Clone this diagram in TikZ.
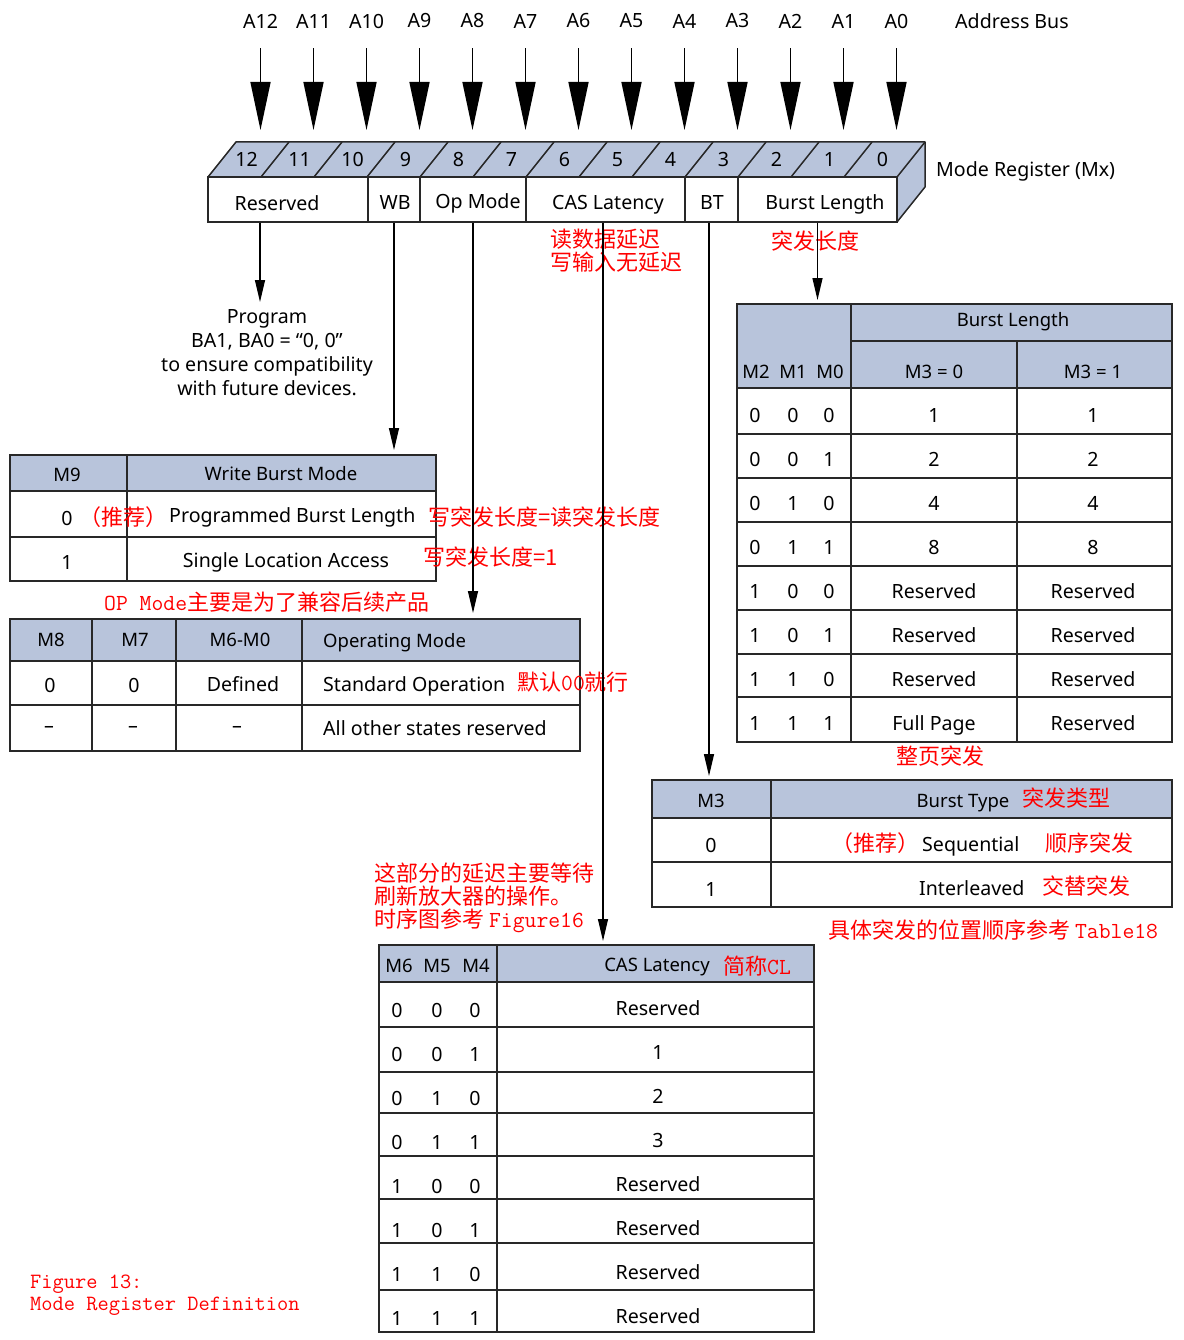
\documentclass[tikz,border=0pt]{standalone}
\usepackage{fontspec}
\setmainfont{Noto Sans}
\newfontfamily\cjk{Noto Sans CJK SC}
\usetikzlibrary{arrows.meta}
\definecolor{hdr}{RGB}{184,196,219}
\definecolor{lc}{RGB}{40,40,40}
\definecolor{rd}{RGB}{255,0,0}
\newcommand\latn[1]{{\ttfamily\fontsize{23}{23}\selectfont #1}}
\begin{document}
\begin{tikzpicture}[x=1pt,y=-1pt,
 tl/.style={font=\fontsize{19.6}{24}\selectfont, inner sep=0pt},
 th/.style={font=\fontsize{18.5}{22}\selectfont, inner sep=0pt},
 rnote/.style={text=rd, font=\cjk\fontsize{22}{23}\selectfont, inner sep=0pt},
 frame/.style={draw=lc, line width=1.5pt, inner sep=0pt, anchor=north west},
 gl/.style={draw=lc, line width=1.5pt},
 regbox/.style={draw=lc, fill=white, line width=1.5pt, inner sep=0pt, minimum height=45pt},
 sarr/.style={draw=black, line width=1.3pt, -{Triangle[length=22pt,width=10pt]}},
 barr/.style={draw=black, line width=1.5pt, -{Triangle[length=48pt,width=20pt]}},
]
\useasboundingbox (0,0) rectangle (1183,1340);

% ---------- address bus ----------
\node[tl, anchor=west] (abus) at (955,21) {Address Bus};
\foreach \k in {0,...,12}{
  \pgfmathsetmacro\xx{260.5+53*(12-\k)}
  \node[tl] (a\k) at (\xx,21) {A\k};
  \coordinate (t\k) at (\xx,142);
  \draw[barr, shorten <=20pt, shorten >=12pt] (a\k.south) -- (t\k);
}

% ---------- register ----------
\fill[hdr] (208,177) -- (236,142) -- (925,142) -- (897,177) -- cycle;
\fill[hdr] (897,177) -- (925,142) -- (925,187) -- (897,222) -- cycle;
\draw[gl, line join=round] (208,177) -- (236,142) -- (925,142) -- (925,187) -- (897,222);
\draw[gl] (897,177) -- (925,142);
\foreach \i in {1,...,12}{
  \draw[gl] ({208+53*\i},177) -- ({236+53*\i},142);
}
\foreach \k in {0,...,12}{
  \pgfmathsetmacro\xx{246.5+53*(12-\k)}
  \node[tl, anchor=base] at (\xx,167) {\k};
}
\node[regbox, minimum width=160pt] (res) at (288,199.5) {};
\node[regbox, minimum width=52pt] (wb) at (394,199.5) {};
\node[regbox, minimum width=106pt] (opm) at (473,199.5) {};
\node[regbox, minimum width=159pt] (cas) at (605.5,199.5) {};
\node[regbox, minimum width=53pt] (bt) at (711.5,199.5) {};
\node[regbox, minimum width=159pt] (bl) at (817.5,199.5) {};
\node[tl, anchor=base] at (277,211) {Reserved};
\node[tl, anchor=base] at (395,210) {WB};
\node[tl, anchor=base] at (478,209) {Op Mode};
\node[tl, anchor=base] at (608,210) {CAS Latency};
\node[tl, anchor=base] at (712,210) {BT};
\node[tl, anchor=base] at (825,210) {Burst Length};
\node[tl, anchor=base west] (mreg) at (936,177) {Mode Register (Mx)};

% ---------- program note ----------
\node[tl, align=center, anchor=north] (prog) at (267,309) {Program\\BA1, BA0 = “0, 0”\\to ensure compatibility\\with future devices.};
\coordinate (progtop) at (260,302);
\draw[sarr] (res.south -| progtop) -- (progtop);

% ---------- write burst table ----------
\fill[hdr] (9,454) rectangle (435,491);
\node[frame, minimum width=426pt, minimum height=126pt] (wbt) at (9,454) {};
\draw[gl] (9,491) -- (435,491) (9,537) -- (435,537) (127,454) -- (127,580);
\node[th] at (67,475) {M9};
\node[th] at (281,474) {Write Burst Mode};
\node[tl] at (67,518) {0};
\node[tl] at (67,562) {1};
\node[tl, anchor=west] at (169,517) {Programmed Burst Length};
\node[tl] at (286,562) {Single Location Access};
\node[rnote, anchor=east] at (168,517) {（推荐）};
\node[rnote, anchor=west] at (428,517) {写突发长度=读突发长度};
\node[rnote, anchor=west] at (423,557) {写突发长度=1};
\draw[sarr, shorten >=4pt] (wb.south) -- (wb.south |- wbt.north);

% ---------- op mode table ----------
\fill[hdr] (9,618) rectangle (579,661);
\node[frame, minimum width=570pt, minimum height=132pt] (opt) at (9,618) {};
\draw[gl] (9,661) -- (579,661) (9,705) -- (579,705)
  (92,618) -- (92,750) (176,618) -- (176,750) (302,618) -- (302,750);
\node[th] at (51,640) {M8};
\node[th] at (135,640) {M7};
\node[th] at (240,640) {M6-M0};
\node[th, anchor=base west] at (323,647) {Operating Mode};
\node[tl] at (50,685) {0};
\node[tl] at (134,685) {0};
\node[tl, anchor=base] at (243,691) {Defined};
\node[tl, anchor=base west] at (323,691) {Standard Operation};
\node[tl] at (49,729) {–};
\node[tl] at (133,729) {–};
\node[tl] at (237,729) {–};
\node[tl, anchor=base west] at (323,735) {All other states reserved};
\node[rnote, anchor=west] at (104,602) {\latn{OP Mode}主要是为了兼容后续产品};
\node[rnote, anchor=west] at (517,682) {默认\latn{00}就行};
\draw[sarr, shorten >=5pt] (opm.south) -- (opm.south |- opt.north);

% ---------- burst length table ----------
\fill[hdr] (736,303) rectangle (1171,388);
\node[frame, minimum width=435pt, minimum height=438pt] (blt) at (736,303) {};
\draw[gl] (851,303) -- (851,741) (851,341) -- (1171,341) (1017,341) -- (1017,741);
\foreach \yy in {388,434,478,522,566,610,654,697}{
  \draw[gl] (736,\yy) -- (1171,\yy);
}
\node[th] at (1013,322) {Burst Length};
\node[th] at (756,372) {M2};
\node[th] at (793,372) {M1};
\node[th] at (830,372) {M0};
\node[th] at (934,372) {M3 = 0};
\node[th] at (1093,372) {M3 = 1};
\foreach \a/\b/\c/\u/\v/\yy in {0/0/0/1/1/415, 0/0/1/2/2/459, 0/1/0/4/4/503, 0/1/1/8/8/547,
  1/0/0/Reserved/Reserved/591, 1/0/1/Reserved/Reserved/635, 1/1/0/Reserved/Reserved/679,
  1/1/1/Full Page/Reserved/723}{
  \node[tl] at (755,\yy) {\a};
  \node[tl] at (793,\yy) {\b};
  \node[tl] at (829,\yy) {\c};
  \node[tl, anchor=base] at (934,\yy+7) {\u};
  \node[tl, anchor=base] at (1093,\yy+7) {\v};
}
\node[rnote] at (815,241) {突发长度};
\node[rnote] at (940,756) {整页突发};
\draw[sarr, shorten >=3pt] (bl.south) -- (bl.south |- blt.north);

% ---------- burst type table ----------
\fill[hdr] (651,779) rectangle (1171,818);
\node[frame, minimum width=520pt, minimum height=127pt] (btt) at (651,779) {};
\draw[gl] (651,818) -- (1171,818) (651,862) -- (1171,862) (771,779) -- (771,906);
\node[th] at (711,801) {M3};
\node[th, anchor=base] at (963,807) {Burst Type};
\node[rnote] at (1066,798) {突发类型};
\node[tl] at (711,845) {0};
\node[tl] at (711,889) {1};
\node[rnote, anchor=east] at (920,843) {（推荐）};
\node[tl, anchor=base west] at (922,851) {Sequential};
\node[rnote] at (1089,843) {顺序突发};
\node[tl, anchor=base west] at (919,895) {Interleaved};
\node[rnote] at (1086,886) {交替突发};
\node[rnote, anchor=west] at (828,930) {具体突发的位置顺序参考 \latn{Table18}};
\draw[sarr, shorten >=3pt] (bt.south -| 709,0) -- (709,779);

% ---------- CAS latency table ----------
\fill[hdr] (378,944) rectangle (813,982);
\node[frame, minimum width=435pt, minimum height=387pt] (cast) at (378,944) {};
\draw[gl] (497,944) -- (497,1331);
\foreach \yy in {982,1027,1072,1113,1156,1199,1243,1290}{
  \draw[gl] (378,\yy) -- (813,\yy);
}
\node[th] at (399,966) {M6};
\node[th] at (437,966) {M5};
\node[th] at (476,966) {M4};
\node[th, anchor=base] at (657,971) {CAS Latency};
\node[rnote] at (757,966) {简称\latn{CL}};
\foreach \a/\b/\c/\u/\yy in {0/0/0/Reserved/1010, 0/0/1/1/1054, 0/1/0/2/1098, 0/1/1/3/1142,
  1/0/0/Reserved/1186, 1/0/1/Reserved/1230, 1/1/0/Reserved/1274, 1/1/1/Reserved/1318}{
  \node[tl] at (397,\yy) {\a};
  \node[tl] at (437,\yy) {\b};
  \node[tl] at (475,\yy) {\c};
  \node[tl] at (658,\yy-2) {\u};
}
\node[rnote, anchor=north west, align=left] at (374,863) {这部分的延迟主要等待\\刷新放大器的操作。\\时序图参考 \latn{Figure16}};
\node[rnote, anchor=north west, align=left] at (550,229) {读数据延迟\\写输入无延迟};
\draw[sarr, shorten >=3pt] (cas.south -| 603,0) -- (603,944);

% ---------- caption ----------
\node[text=rd, inner sep=0pt, anchor=north west, align=left, font=\ttfamily\fontsize{21.8}{22}\selectfont] at (30,1275) {Figure 13:\\Mode Register Definition};
\end{tikzpicture}
\end{document}
